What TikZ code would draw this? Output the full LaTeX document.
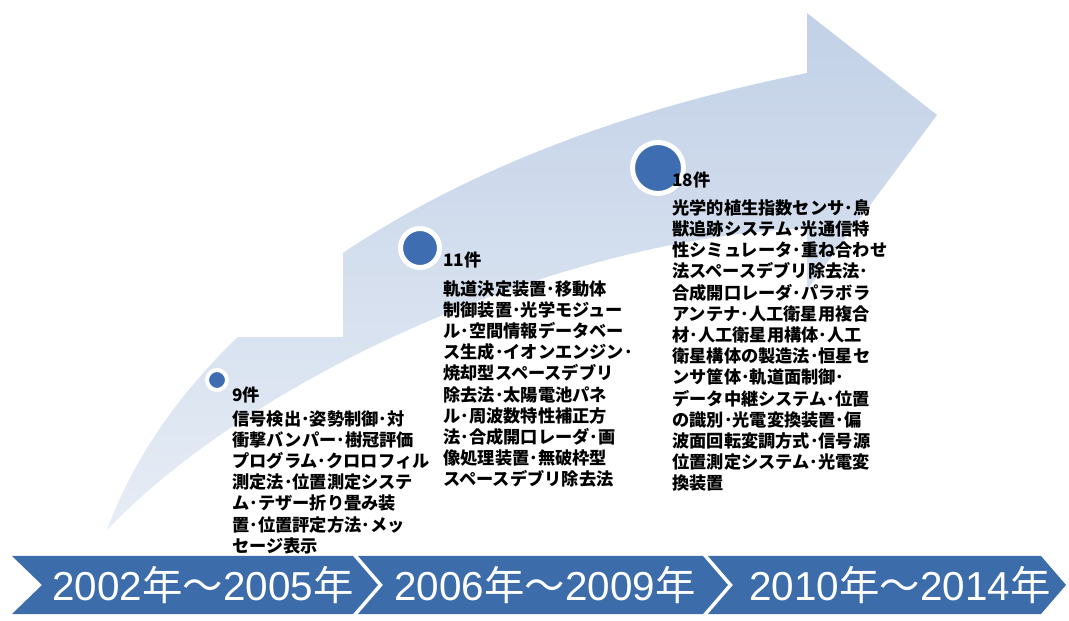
\documentclass[tikz,border=0pt]{standalone}
\usepackage{fontspec}
\newfontfamily\jpfont{Noto Sans CJK JP}
\newfontfamily\numfont{Liberation Sans}
\usetikzlibrary{shadows}
\definecolor{bandblue}{HTML}{C2D1E7}
\definecolor{dotblue}{HTML}{3E6DB2}
\definecolor{chevblue}{HTML}{3D6CAA}
\tikzset{
  count/.style={anchor=west, inner sep=0pt, font=\jpfont\bfseries\fontsize{9.8}{12}\selectfont},
  items/.style={anchor=north west, inner sep=0pt, align=left, font=\jpfont\bfseries\fontsize{9.8}{12.07}\selectfont},
  marker/.style={circle, fill=dotblue, draw=white, inner sep=0pt, circular drop shadow={shadow xshift=0.4pt, shadow yshift=-0.4pt, opacity=0.25}},
  period/.style={text=white, inner sep=0pt, font=\numfont\fontsize{23}{23}\selectfont}
}
\newcommand\years[2]{#1{\jpfont 年～}#2{\jpfont 年}}
\begin{document}
\begin{tikzpicture}[x=0.02cm,y=-0.02cm]
	\useasboundingbox (0,0) rectangle (1069,621);
	\shade[top color=bandblue, middle color=bandblue!85!white, bottom color=bandblue!40!white] (107,530) .. controls (180,330) and (420,150) .. (807,73) -- (807,13) -- (937,115) -- (807,290) -- (807,228) .. controls (550,240) and (250,380) .. (107,530) -- cycle;
	\fill[white] (0,0) rectangle (343,337);
	\node[marker, minimum size=0.4cm, line width=0.08cm] (d1) at (217,380) {};
	\node[marker, minimum size=0.78cm, line width=0.1cm] (d2) at (420,248) {};
	\node[marker, minimum size=1.02cm, line width=0.1cm] (d3) at (658,168) {};
	\node[count] (c1) at (232,395) {9件};
	\node[count] (c2) at (443,260) {11件};
	\node[count] (c3) at (672,180) {18件};
	\node[items] (l1) at (232,410) {信号検出･姿勢制御･対\\衝撃バンパー･樹冠評価\\プログラム･クロロフィル\\測定法･位置測定システ\\ム･テザー折り畳み装\\置･位置評定方法･メッ\\セージ表示};
	\node[items] (l2) at (443,280) {軌道決定装置･移動体\\制御装置･光学モジュー\\ル･空間情報データベー\\ス生成･イオンエンジン･\\焼却型スペースデブリ\\除去法･太陽電池パネ\\ル･周波数特性補正方\\法･合成開口レーダ･画\\像処理装置･無破枠型\\スペースデブリ除去法};
	\node[items] (l3) at (672,199) {光学的植生指数センサ･鳥\\獣追跡システム･光通信特\\性シミュレータ･重ね合わせ\\法スペースデブリ除去法･\\合成開口レーダ･パラボラ\\アンテナ･人工衛星用複合\\材･人工衛星用構体･人工\\衛星構体の製造法･恒星セ\\ンサ筐体･軌道面制御･\\データ中継システム･位置\\の識別･光電変換装置･偏\\波面回転変調方式･信号源\\位置測定システム･光電変\\換装置};
	\fill[chevblue] (12,556) -- (353,556) -- (378,585) -- (353,614) -- (12,614) -- (42,585) -- cycle;
	\fill[chevblue] (358,556) -- (703,556) -- (728,585) -- (703,614) -- (358,614) -- (383,585) -- cycle;
	\fill[chevblue] (708,556) -- (1041,556) -- (1066,585) -- (1041,614) -- (708,614) -- (733,585) -- cycle;
	\node[period] (p1) at (203,585) {\years{2002}{2005}};
	\node[period] (p2) at (545,585) {\years{2006}{2009}};
	\node[period] (p3) at (900,585) {\years{2010}{2014}};
\end{tikzpicture}
\end{document}
